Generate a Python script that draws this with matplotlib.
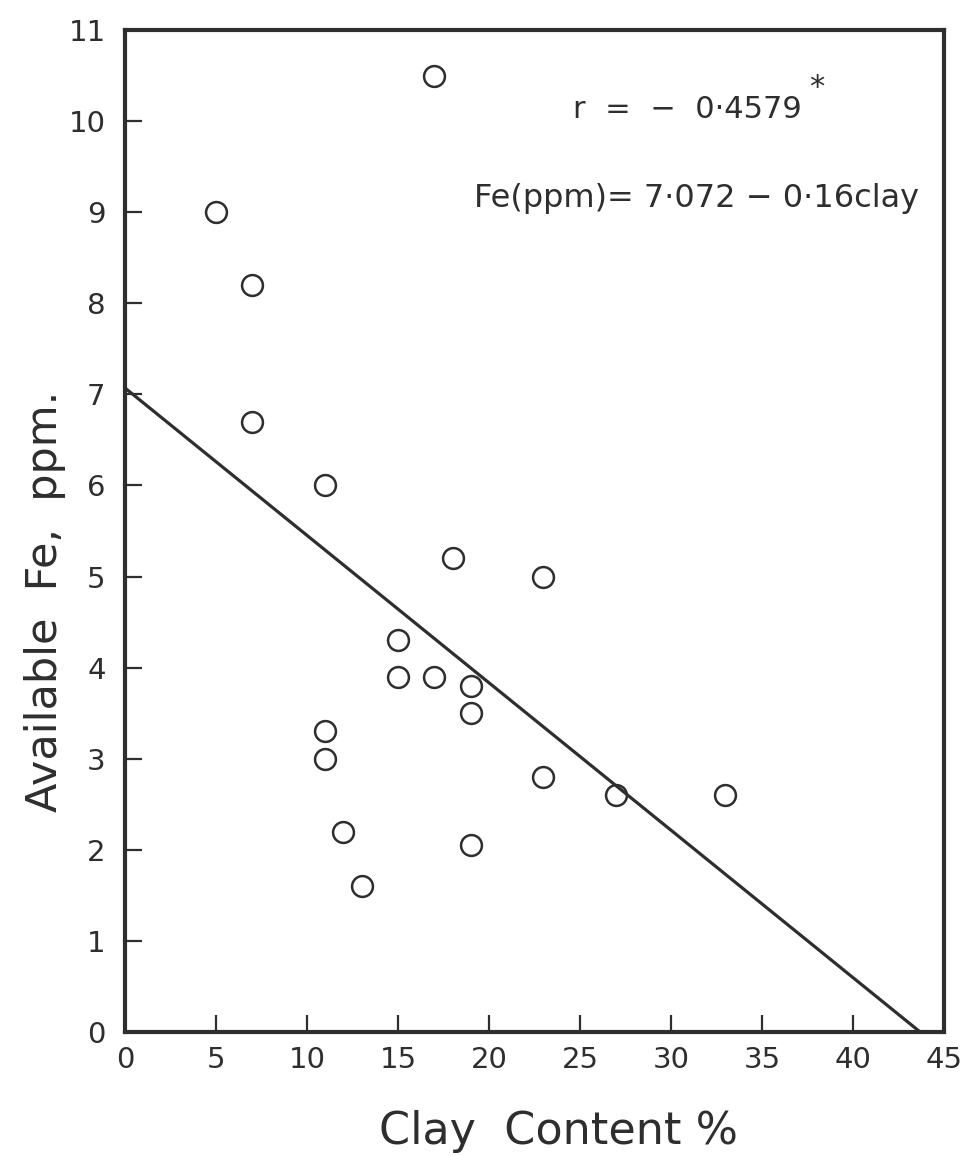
import matplotlib.pyplot as plt

# data
clay = [5, 7, 7, 11, 17, 18, 23, 15, 15, 17, 19, 19, 11, 11, 12, 13, 19, 23, 27, 33]
fe = [9.0, 8.2, 6.7, 6.0, 10.5, 5.2, 5.0, 4.3, 3.9, 3.9, 3.8, 3.5, 3.3, 3.0, 2.2, 1.6, 2.05, 2.8, 2.6, 2.6]

# regression line as drawn (end points)
line_x = [0, 43.7]
line_y = [7.07, 0]

x_ticks = [0, 5, 10, 15, 20, 25, 30, 35, 40, 45]
y_ticks = list(range(0, 12))

INK = '#2e2e2e'


def main():
    plt.rcParams['font.family'] = ['DejaVu Sans']
    fig = plt.figure(figsize=(9.64, 11.56), dpi=100)
    ax = fig.add_axes([0.1297, 0.1073, 0.979 - 0.1297, 0.974 - 0.1073])

    ax.plot(line_x, line_y, color=INK, lw=2.3, solid_capstyle='butt')
    ax.plot(clay, fe, 'o', ms=15, mfc='none', mec=INK, mew=1.8)

    ax.set_xlim(0, 45)
    ax.set_ylim(0, 11)
    ax.set_xticks(x_ticks)
    ax.set_yticks(y_ticks)
    ax.tick_params(direction='in', length=12, width=1.6, colors=INK, labelsize=21)
    ax.tick_params(axis='x', pad=10)
    ax.tick_params(axis='y', pad=14)
    for s in ax.spines.values():
        s.set_linewidth(3)
        s.set_color(INK)

    ax.set_xlabel('Clay  Content %', fontsize=32, color=INK)
    ax.xaxis.set_label_coords(0.53, -0.078)
    ax.set_ylabel('Available  Fe,  ppm.', fontsize=31, color=INK)
    ax.yaxis.set_label_coords(-0.072, 0.43)

    ax.text(24.6, 10.13, 'r  =  −  0·4579', fontsize=22, va='center', color=INK)
    ax.text(38.0, 10.37, '*', fontsize=22, ha='center', va='center', color=INK)
    ax.text(19.2, 9.15, 'Fe(ppm)= 7·072 − 0·16clay', fontsize=23, va='center',
            color=INK)

    fig.savefig('out.png', dpi=100)


if __name__ == "__main__":
    main()
